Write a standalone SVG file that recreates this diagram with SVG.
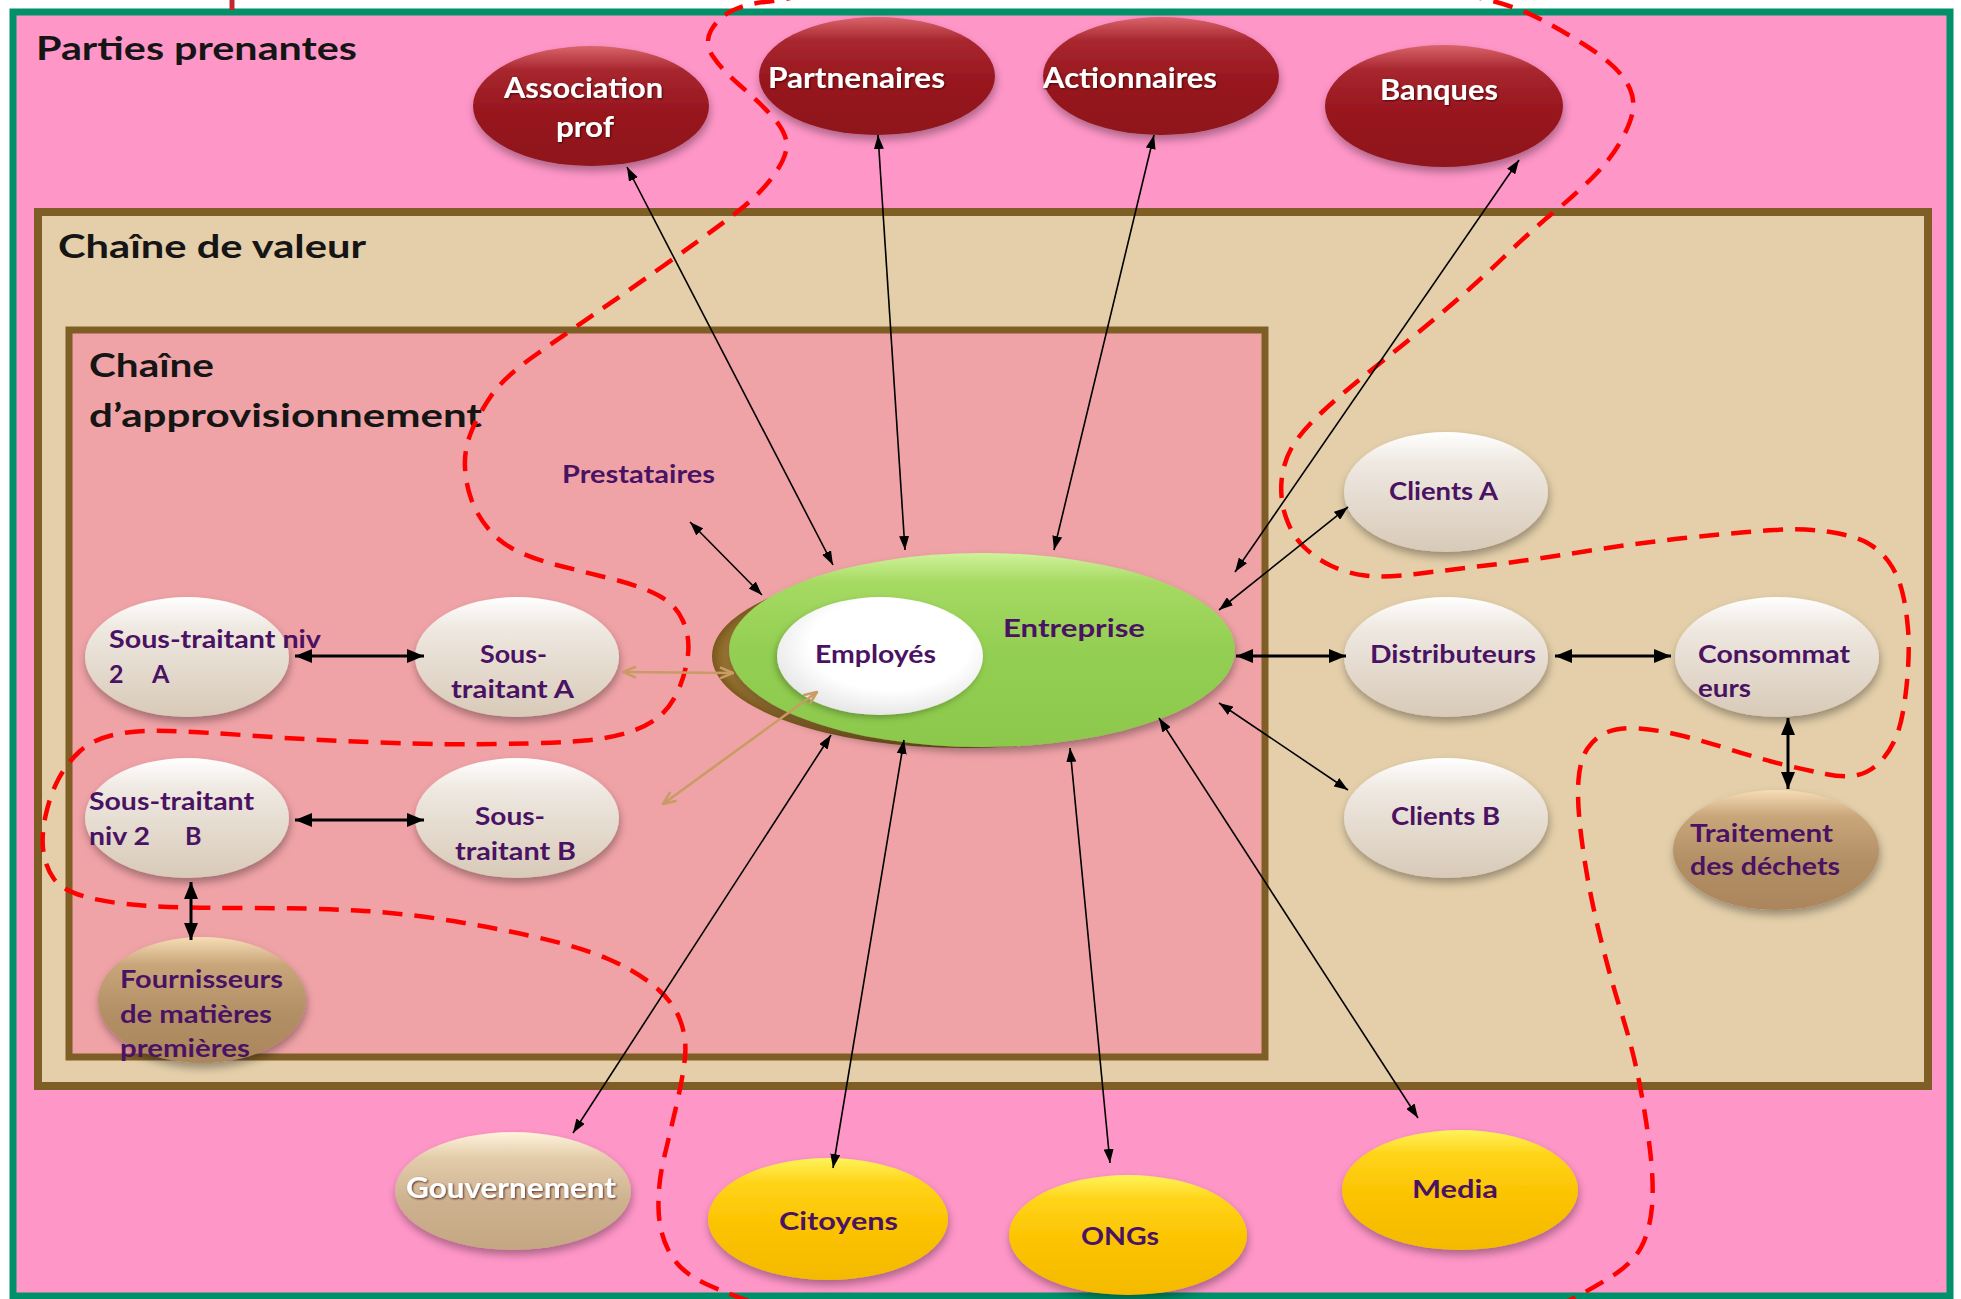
<svg xmlns="http://www.w3.org/2000/svg" width="1961" height="1299" viewBox="0 0 1961 1299">
<defs>
<style>
.ttl{font-family:Lato,"Liberation Sans",sans-serif;font-weight:700;fill:#151515;font-size:32px}
.lbl{font-family:Lato,"Liberation Sans",sans-serif;font-weight:700;fill:#4A1262;font-size:25px}
.wl{font-family:Lato,"Liberation Sans",sans-serif;font-weight:700;fill:#FFFFFF;font-size:28px;filter:url(#ts)}
.c{stroke:#000;stroke-width:1.6;fill:none;marker-start:url(#ah);marker-end:url(#ah)}
.cb{stroke:#000;stroke-width:3;fill:none;marker-start:url(#ahb);marker-end:url(#ahb)}
.ct{stroke:#C89C64;stroke-width:2.6;fill:none;marker-start:url(#aht);marker-end:url(#aht)}
.nd{filter:url(#sh)}
</style>
<linearGradient id="gLight" x1="0" y1="0" x2="0" y2="1">
<stop offset="0" stop-color="#FFFFFF"/><stop offset="0.25" stop-color="#EFE9E2"/><stop offset="0.6" stop-color="#E4DACE"/><stop offset="1" stop-color="#D8CAB8"/>
</linearGradient>
<linearGradient id="gRed" x1="0" y1="0" x2="0" y2="1">
<stop offset="0" stop-color="#D9646B"/><stop offset="0.2" stop-color="#A8272F"/><stop offset="0.55" stop-color="#97161E"/><stop offset="1" stop-color="#8E141B"/>
</linearGradient>
<linearGradient id="gYel" x1="0" y1="0" x2="0" y2="1">
<stop offset="0" stop-color="#FFF35A"/><stop offset="0.2" stop-color="#FFD41A"/><stop offset="0.55" stop-color="#FBC300"/><stop offset="1" stop-color="#F4BA00"/>
</linearGradient>
<linearGradient id="gTan" x1="0" y1="0" x2="0" y2="1">
<stop offset="0" stop-color="#FFF3DC"/><stop offset="0.22" stop-color="#E3CCAA"/><stop offset="0.6" stop-color="#CDB18F"/><stop offset="1" stop-color="#C4A782"/>
</linearGradient>
<linearGradient id="gBrn" x1="0" y1="0" x2="0" y2="1">
<stop offset="0" stop-color="#F6DDB5"/><stop offset="0.22" stop-color="#C9A57A"/><stop offset="0.6" stop-color="#B38F66"/><stop offset="1" stop-color="#AB865C"/>
</linearGradient>
<linearGradient id="gGrn" x1="0" y1="0" x2="0" y2="1">
<stop offset="0" stop-color="#D0F29A"/><stop offset="0.15" stop-color="#A6DA63"/><stop offset="0.5" stop-color="#93CF52"/><stop offset="1" stop-color="#8CC84C"/>
</linearGradient>
<radialGradient id="gCres" cx="0.5" cy="0.5" r="0.5">
<stop offset="0.9" stop-color="#B48C47"/><stop offset="1" stop-color="#7A581C"/>
</radialGradient>
<radialGradient id="gWhite" cx="0.55" cy="0.4" r="0.65">
<stop offset="0.6" stop-color="#FFFFFF"/><stop offset="1" stop-color="#E2E2E2"/>
</radialGradient>
<filter id="sh" x="-20%" y="-20%" width="140%" height="160%">
<feDropShadow dx="1" dy="5" stdDeviation="4" flood-color="#000" flood-opacity="0.33"/>
</filter>
<filter id="sh2" x="-20%" y="-20%" width="140%" height="160%">
<feDropShadow dx="-2" dy="3" stdDeviation="3" flood-color="#000" flood-opacity="0.25"/>
</filter>
<filter id="ts" x="-10%" y="-30%" width="120%" height="160%">
<feDropShadow dx="1" dy="1" stdDeviation="0.8" flood-color="#3A0000" flood-opacity="0.8"/>
</filter>
<marker id="ah" viewBox="0 0 14 10" refX="14" refY="5" markerWidth="14" markerHeight="10" markerUnits="userSpaceOnUse" orient="auto-start-reverse"><path d="M0,0 L14,5 L0,10 z" fill="#000"/></marker>
<marker id="ahb" viewBox="0 0 17 14" refX="17" refY="7" markerWidth="17" markerHeight="14" markerUnits="userSpaceOnUse" orient="auto-start-reverse"><path d="M0,0 L17,7 L0,14 z" fill="#000"/></marker>
<marker id="aht" viewBox="0 0 16 14" refX="15" refY="7" markerWidth="16" markerHeight="14" markerUnits="userSpaceOnUse" orient="auto-start-reverse"><path d="M2,1.5 L15,7 L2,12.5" fill="none" stroke="#C89C64" stroke-width="2.6"/></marker>
</defs>

<rect x="0" y="0" width="1961" height="1299" fill="#FFFFFF"/>

<g id="boxes">
<rect x="13" y="12" width="1937" height="1284" fill="#FF96C8" stroke="#00906A" stroke-width="7"/>
<line x1="232" y1="0" x2="232" y2="10" stroke="#C0282D" stroke-width="5"/>
<rect x="38" y="212" width="1890" height="874" fill="#E4CFAA" stroke="#7F5E26" stroke-width="8"/>
<rect x="69" y="330" width="1196" height="727" fill="#F0A3A7" stroke="#7F5E26" stroke-width="7"/>
<text class="ttl" x="36" y="60" textLength="321" lengthAdjust="spacingAndGlyphs">Parties prenantes</text>
<text class="ttl" x="58" y="258" textLength="308" lengthAdjust="spacingAndGlyphs">Chaîne de valeur</text>
<text class="ttl" x="89" y="377" textLength="125" lengthAdjust="spacingAndGlyphs">Chaîne</text>
<text class="ttl" x="89" y="427" textLength="393" lengthAdjust="spacingAndGlyphs">d’approvisionnement</text>
</g>

<g id="boundary">
<path d="M965,-21 Q830,-12 807,-6 Q784,0 764.5,2 Q745,4 731.5,11 Q718,18 711,30.5 Q704,43 713,56.5 Q722,70 739.5,85 Q757,100 771,115 Q785,130 786.5,142.5 Q788,155 774,175 Q760,195 730,217.5 Q700,240 662.5,266.5 Q625,293 596,313 Q567,333 535.5,355 Q504,377 491,396 Q478,415 471,432.5 Q464,450 465,467.5 Q466,485 471.5,500 Q477,515 488.5,529 Q500,543 518,551.5 Q536,560 562.5,566.5 Q589,573 616,580 Q643,587 659.5,596 Q676,605 683,621 Q690,637 688,654.5 Q686,672 679,688.5 Q672,705 661,715 Q650,725 631,731.5 Q612,738 585,740.5 Q558,743 502,744 Q446,745 379,742.5 Q312,740 256.5,736 Q201,732 167.5,731 Q134,730 113,735 Q92,740 79.5,751.5 Q67,763 58.5,779 Q50,795 45.5,816 Q41,837 43.5,852.5 Q46,868 54,879 Q62,890 84.5,896.5 Q107,903 143,905.5 Q179,908 245.5,908 Q312,908 357,910.5 Q402,913 446.5,920 Q491,927 535.5,937 Q580,947 607,958.5 Q634,970 653,985 Q672,1000 679.5,1018.5 Q687,1037 685,1057 Q683,1077 676.5,1105 Q670,1133 664,1158 Q658,1183 658.5,1208 Q659,1233 669.5,1252.5 Q680,1272 705,1283.5 Q730,1295 765,1306.5 Q800,1318 1000,1326.5 Q1200,1335 1370,1325 Q1540,1315 1565,1302.5 Q1590,1290 1611.5,1276.5 Q1633,1263 1641.5,1246.5 Q1650,1230 1652,1206.5 Q1654,1183 1650,1150 Q1646,1117 1639.5,1083.5 Q1633,1050 1622.5,1016.5 Q1612,983 1603.5,950 Q1595,917 1589.5,888.5 Q1584,860 1580.5,830 Q1577,800 1578.5,780 Q1580,760 1587.5,748.5 Q1595,737 1607.5,732 Q1620,727 1639,728.5 Q1658,730 1679,735 Q1700,740 1732,750 Q1764,760 1785,765 Q1806,770 1825.5,774 Q1845,778 1857.5,775 Q1870,772 1880,762 Q1890,752 1896.5,736 Q1903,720 1906.5,686.5 Q1910,653 1908,629 Q1906,605 1901.5,589 Q1897,573 1888.5,561.5 Q1880,550 1867.5,543 Q1855,536 1830.5,532 Q1806,528 1774.5,530 Q1743,532 1690,537.5 Q1637,543 1584.5,551.5 Q1532,560 1490,565 Q1448,570 1416,574 Q1384,578 1365,575.5 Q1346,573 1330.5,565.5 Q1315,558 1303.5,546.5 Q1292,535 1286,517.5 Q1280,500 1281.5,481.5 Q1283,463 1291.5,448 Q1300,433 1320,414 Q1340,395 1379,364 Q1418,333 1447.5,308 Q1477,283 1504.5,256.5 Q1532,230 1553.5,212.5 Q1575,195 1592.5,177.5 Q1610,160 1620,142.5 Q1630,125 1632.5,112.5 Q1635,100 1630,89 Q1625,78 1614.5,67.5 Q1604,57 1582.5,43.5 Q1561,30 1540,19 Q1519,8 1494.5,1.5 Q1470,-5 1435,-10 Q1400,-15 1250,-22.5 Q1100,-30 965,-21 Z" fill="none" stroke="#FF0000" stroke-width="4.5" stroke-dasharray="20 12"/>
</g>

<g id="n-association"><ellipse class="nd" cx="591" cy="106" rx="118" ry="60" fill="url(#gRed)"/>
<text class="wl" x="504" y="98" textLength="159" lengthAdjust="spacingAndGlyphs">Association</text>
<text class="wl" x="556" y="137" textLength="58" lengthAdjust="spacingAndGlyphs">prof</text></g>
<g id="n-partenaires"><ellipse class="nd" cx="877" cy="76" rx="118" ry="59" fill="url(#gRed)"/>
<text class="wl" x="768" y="88" textLength="177" lengthAdjust="spacingAndGlyphs">Partnenaires</text></g>
<g id="n-actionnaires"><ellipse class="nd" cx="1161" cy="76" rx="118" ry="59" fill="url(#gRed)"/>
<text class="wl" x="1043" y="88" textLength="174" lengthAdjust="spacingAndGlyphs">Actionnaires</text></g>
<g id="n-banques"><ellipse class="nd" cx="1444" cy="106" rx="119" ry="61" fill="url(#gRed)"/>
<text class="wl" x="1380" y="100" textLength="118" lengthAdjust="spacingAndGlyphs">Banques</text></g>

<g id="n-prestataires"><text class="lbl" x="562" y="483" textLength="153" lengthAdjust="spacingAndGlyphs" font-size="24">Prestataires</text></g>

<g id="n-entreprise">
<ellipse cx="965" cy="656" rx="253" ry="92" fill="url(#gCres)"/>
<ellipse class="nd" cx="982" cy="650" rx="253" ry="97" fill="url(#gGrn)"/>
<text class="lbl" x="1003" y="637" textLength="142" lengthAdjust="spacingAndGlyphs" font-size="26">Entreprise</text>
</g>
<g id="n-employes"><ellipse cx="880" cy="656" rx="103" ry="59" fill="url(#gWhite)" filter="url(#sh2)"/>
<text class="lbl" x="815" y="663" textLength="121" lengthAdjust="spacingAndGlyphs" font-size="24">Employés</text></g>

<g id="n-st2a"><ellipse class="nd" cx="187" cy="657" rx="102" ry="60" fill="url(#gLight)"/>
<text class="lbl" x="109" y="648" textLength="212" lengthAdjust="spacingAndGlyphs">Sous-traitant niv</text>
<text class="lbl" x="109" y="683">2</text><text class="lbl" x="152" y="683">A</text></g>
<g id="n-sta"><ellipse class="nd" cx="517" cy="657" rx="102" ry="60" fill="url(#gLight)"/>
<text class="lbl" x="480" y="663" textLength="67" lengthAdjust="spacingAndGlyphs">Sous-</text>
<text class="lbl" x="451" y="698" textLength="123" lengthAdjust="spacingAndGlyphs">traitant A</text></g>
<g id="n-st2b"><ellipse class="nd" cx="187" cy="818" rx="102" ry="60" fill="url(#gLight)"/>
<text class="lbl" x="89" y="810" textLength="165" lengthAdjust="spacingAndGlyphs">Sous-traitant</text>
<text class="lbl" x="89" y="845" textLength="61" lengthAdjust="spacingAndGlyphs">niv 2</text><text class="lbl" x="185" y="845">B</text></g>
<g id="n-stb"><ellipse class="nd" cx="517" cy="818" rx="102" ry="60" fill="url(#gLight)"/>
<text class="lbl" x="475" y="825" textLength="70" lengthAdjust="spacingAndGlyphs">Sous-</text>
<text class="lbl" x="455" y="860" textLength="121" lengthAdjust="spacingAndGlyphs">traitant B</text></g>
<g id="n-fournisseurs"><ellipse class="nd" cx="202" cy="1000" rx="104" ry="63" fill="url(#gBrn)"/>
<text class="lbl" x="120" y="988" textLength="163" lengthAdjust="spacingAndGlyphs">Fournisseurs</text>
<text class="lbl" x="120" y="1023" textLength="152" lengthAdjust="spacingAndGlyphs">de matières</text>
<text class="lbl" x="120" y="1057" textLength="130" lengthAdjust="spacingAndGlyphs">premières</text></g>

<g id="n-clientsa"><ellipse class="nd" cx="1446" cy="492" rx="102" ry="60" fill="url(#gLight)"/>
<text class="lbl" x="1389" y="500" textLength="109" lengthAdjust="spacingAndGlyphs">Clients A</text></g>
<g id="n-distributeurs"><ellipse class="nd" cx="1446" cy="657" rx="102" ry="60" fill="url(#gLight)"/>
<text class="lbl" x="1370" y="663" textLength="166" lengthAdjust="spacingAndGlyphs">Distributeurs</text></g>
<g id="n-clientsb"><ellipse class="nd" cx="1446" cy="818" rx="102" ry="60" fill="url(#gLight)"/>
<text class="lbl" x="1391" y="825" textLength="109" lengthAdjust="spacingAndGlyphs">Clients B</text></g>
<g id="n-consommateurs"><ellipse class="nd" cx="1777" cy="657" rx="102" ry="60" fill="url(#gLight)"/>
<text class="lbl" x="1698" y="663" textLength="152" lengthAdjust="spacingAndGlyphs">Consommat</text>
<text class="lbl" x="1698" y="697" textLength="53" lengthAdjust="spacingAndGlyphs">eurs</text></g>
<g id="n-traitement"><ellipse class="nd" cx="1776" cy="850" rx="103" ry="60" fill="url(#gBrn)"/>
<text class="lbl" x="1690" y="842" textLength="143" lengthAdjust="spacingAndGlyphs">Traitement</text>
<text class="lbl" x="1690" y="875" textLength="150" lengthAdjust="spacingAndGlyphs">des déchets</text></g>

<g id="n-gouvernement"><ellipse class="nd" cx="513" cy="1191" rx="118" ry="59" fill="url(#gTan)"/>
<text class="wl" x="406" y="1198" textLength="210" lengthAdjust="spacingAndGlyphs">Gouvernement</text></g>
<g id="n-citoyens"><ellipse class="nd" cx="828" cy="1219" rx="120" ry="61" fill="url(#gYel)"/>
<text class="lbl" x="779" y="1230" textLength="119" lengthAdjust="spacingAndGlyphs">Citoyens</text></g>
<g id="n-ongs"><ellipse class="nd" cx="1128" cy="1235" rx="119" ry="60" fill="url(#gYel)"/>
<text class="lbl" x="1081" y="1245" textLength="78" lengthAdjust="spacingAndGlyphs">ONGs</text></g>
<g id="n-media"><ellipse class="nd" cx="1460" cy="1190" rx="118" ry="60" fill="url(#gYel)"/>
<text class="lbl" x="1412" y="1198" textLength="86" lengthAdjust="spacingAndGlyphs">Media</text></g>

<g id="connectors">
<line class="c" x1="627" y1="167" x2="833" y2="565"/>
<line class="c" x1="878" y1="135" x2="905" y2="550"/>
<line class="c" x1="1154" y1="135" x2="1054" y2="550"/>
<line class="c" x1="1519" y1="160" x2="1235" y2="572"/>
<line class="c" x1="1219" y1="610" x2="1348" y2="507"/>
<line class="cb" x1="1236" y1="656" x2="1346" y2="656"/>
<line class="c" x1="1219" y1="703" x2="1348" y2="790"/>
<line class="cb" x1="1555" y1="656" x2="1671" y2="656"/>
<line class="cb" x1="1788" y1="718" x2="1788" y2="789"/>
<line class="cb" x1="295" y1="656" x2="424" y2="656"/>
<line class="cb" x1="295" y1="820" x2="424" y2="820"/>
<line class="cb" x1="191" y1="882" x2="191" y2="940"/>
<line class="c" x1="690" y1="522" x2="762" y2="595"/>
<line class="c" x1="831" y1="735" x2="573" y2="1133"/>
<line class="c" x1="904" y1="740" x2="833" y2="1168"/>
<line class="c" x1="1070" y1="748" x2="1110" y2="1163"/>
<line class="c" x1="1159" y1="718" x2="1418" y2="1118"/>
<line class="ct" x1="623" y1="672" x2="733" y2="673"/>
<line class="ct" x1="817" y1="692" x2="663" y2="804"/>
</g>
</svg>
